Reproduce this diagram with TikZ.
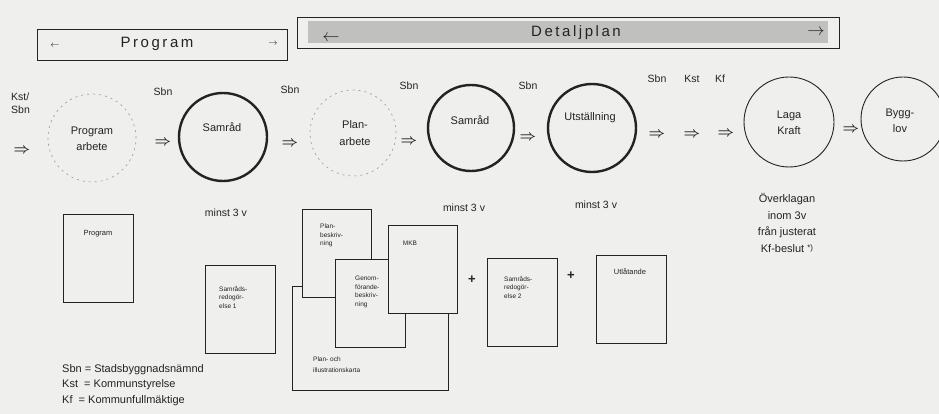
\documentclass[tikz,border=0pt]{standalone}
\usepackage{fontspec}
\setmainfont{Liberation Sans}
\newfontfamily\spacedfont[LetterSpace=17]{Liberation Sans}
\definecolor{bg}{RGB}{239,240,237}
\definecolor{ink}{RGB}{35,35,35}
\definecolor{shade}{RGB}{192,192,190}
\definecolor{faint}{RGB}{160,160,160}
\begin{document}
\begin{tikzpicture}[x=1pt,y=-1pt,
  every node/.style={text=ink},
  band/.style={draw=ink, line width=0.9pt, inner sep=0, minimum height=31pt},
  stage/.style={circle, draw=ink, line width=2.4pt, inner sep=0},
  endstage/.style={circle, draw=ink, line width=0.9pt, inner sep=0},
  work/.style={circle, draw=faint, line width=0.7pt, dash pattern=on 2pt off 4pt, inner sep=0},
  lbl/.style={font=\fontsize{11}{16.5}\selectfont, align=center, inner sep=0},
  who/.style={font=\fontsize{10.5}{13}\selectfont, inner sep=0},
  imp/.style={font=\fontsize{15}{15}\selectfont\boldmath, inner sep=0},
  doc/.style={draw=ink, line width=0.8pt, fill=bg, inner sep=0, minimum width=70pt, minimum height=88pt},
  doctext/.style={font=\fontsize{6.5}{8.5}\selectfont, align=left, anchor=north west, inner sep=0},
  doctitle/.style={font=\fontsize{7.5}{8}\selectfont, inner sep=0},
  plus/.style={font=\bfseries\fontsize{13}{13}\selectfont, inner sep=0}
]
\path[use as bounding box, fill=bg] (0,0) rectangle (939,414);

% phase bands
\node[band, minimum width=250pt] (progband) at (162,44.5) {};
\node[band, minimum width=542pt] (detband) at (568,32.5) {};
\node[fill=shade, inner sep=0, minimum width=520pt, minimum height=22pt] (detshade) at (568,32) {};
\node (progtxt) at (157,44) {\spacedfont\fontsize{15}{15}\selectfont Program};
\node (progl) at (55,46) {\fontsize{9}{9}\selectfont$\leftarrow$};
\node (progr) at (273,44) {\fontsize{9}{9}\selectfont$\rightarrow$};
\node (dettxt) at (576,33) {\spacedfont\fontsize{15}{15}\selectfont Detaljplan};
\node (detl) at (331,38) {\fontsize{16}{16}\selectfont$\leftarrow$};
\node (detr) at (816,32) {\fontsize{16}{16}\selectfont$\rightarrow$};

% stages
\node[work, minimum size=88pt] (pa) at (92,138) {};
\node[stage, minimum size=88pt] (s1) at (223,137) {};
\node[work, minimum size=86pt] (pl) at (353,133) {};
\node[stage, minimum size=86pt] (s2) at (471,128) {};
\node[stage, minimum size=88pt] (ut) at (592,128) {};
\node[endstage, minimum size=90pt] (lk) at (789,122) {};
\node[endstage, minimum size=84pt] (bl) at (903,119) {};

\node[lbl] (pat) at (92,139) {Program\\arbete};
\node[lbl] (s1t) at (222,127) {Samråd};
\node[lbl] (plt) at (355,133) {Plan-\\arbete};
\node[lbl] (s2t) at (470,120) {Samråd};
\node[lbl] (utt) at (590,118) {Utställning};
\node[lbl] (lkt) at (789,123) {Laga\\Kraft};
\node[lbl] (blt) at (900,121) {Bygg-\\lov};

% who decides
\node[who, align=left, anchor=west] (kstsbn) at (11,103) {Kst/\\Sbn};
\node[who] (sbn1) at (163,92) {Sbn};
\node[who] (sbn2) at (290,90) {Sbn};
\node[who] (sbn3) at (409,86) {Sbn};
\node[who] (sbn4) at (528,86) {Sbn};
\node[who] (sbn5) at (657,79) {Sbn};
\node[who] (kst) at (692,79) {Kst};
\node[who] (kf) at (720,79) {Kf};

% step arrows
\node[imp] (i0) at (22,151) {$\Rightarrow$};
\node[imp] (i1) at (163,143) {$\Rightarrow$};
\node[imp] (i2) at (290,144) {$\Rightarrow$};
\node[imp] (i3) at (409,142) {$\Rightarrow$};
\node[imp] (i4) at (528,138) {$\Rightarrow$};
\node[imp] (i5) at (657,135) {$\Rightarrow$};
\node[imp] (i6) at (692,135) {$\Rightarrow$};
\node[imp] (i7) at (726,134) {$\Rightarrow$};
\node[imp] (i8) at (851,130) {$\Rightarrow$};

% durations
\node[who] (m1) at (226,213) {minst 3 v};
\node[who] (m2) at (464,208) {minst 3 v};
\node[who] (m3) at (596,205) {minst 3 v};
\node[lbl] (overk) at (787,223) {Överklagan\\inom 3v\\från justerat\\Kf-beslut {\fontsize{8}{8}\selectfont\raisebox{2pt}{*)}}};

% documents
\node[doc] (dprog) at (98,258) {};
\node[doctitle] (dprogt) at (98,234) {Program};
\node[doc] (dsam1) at (240,309) {};
\node[doctext] (dsam1t) at (219,286) {Samråds-\\redogör-\\else 1};
\node[doc, minimum width=156pt, minimum height=104pt] (dkarta) at (370,338) {};
\node[doctext, font=\fontsize{6.5}{10.5}\selectfont] (dkartat) at (313,357) {Plan- och\\illustrationskarta};
\node[doc, minimum width=69pt] (dplan) at (336.5,253) {};
\node[doctext] (dplant) at (320,224) {Plan-\\beskriv-\\ning};
\node[doc] (dgenom) at (370,303) {};
\node[doctext] (dgenomt) at (355,276) {Genom-\\förande-\\beskriv-\\ning};
\node[doc, minimum width=69pt] (dmkb) at (422.5,269) {};
\node[doctext, anchor=center] (dmkbt) at (410,243) {MKB};
\node[plus] (p1) at (472,280) {+};
\node[doc] (dsam2) at (522,302) {};
\node[doctext] (dsam2t) at (504,276) {Samråds-\\redogör-\\else 2};
\node[plus] (p2) at (571,276) {+};
\node[doc] (dutl) at (631,299) {};
\node[doctitle] (dutlt) at (630,272) {Utlåtande};

% legend
\node[font=\fontsize{11}{15.5}\selectfont, align=left, anchor=north west, inner sep=0] (legend) at (62,364)
  {Sbn = Stadsbyggnadsnämnd\\Kst\ \ = Kommunstyrelse\\Kf\ \ = Kommunfullmäktige};
\end{tikzpicture}
\end{document}
